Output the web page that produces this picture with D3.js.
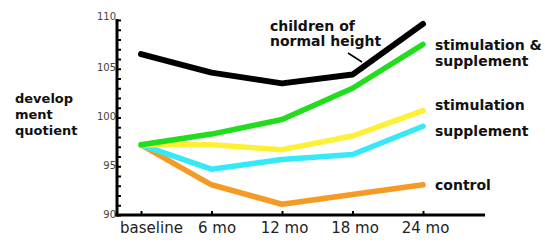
<!DOCTYPE html>
<html>
<head>
<meta charset="utf-8">
<script src="https://d3js.org/d3.v7.min.js"></script>
<style>
  body { margin: 0; background: #fff; }
  text { font-family: "DejaVu Sans", sans-serif; }
  .lbl { font-weight: bold; font-size: 14px; fill: #111; }
  .ytitle { font-weight: bold; font-size: 13px; fill: #111; }
</style>
</head>
<body>
<svg width="545" height="242"></svg>
<script>
// data
var timepoints = ["baseline", "6 mo", "12 mo", "18 mo", "24 mo"];
var normalHeight = [106.5, 104.6, 103.5, 104.4, 109.6];
var stimSupp     = [97.2, 98.3, 99.8, 103.0, 107.5];
var stimulation  = [97.2, 97.2, 96.7, 98.1, 100.7];
var supplement   = [97.2, 94.7, 95.7, 96.2, 99.1];
var control      = [97.2, 93.1, 91.1, 92.1, 93.1];
var yTicks = d3.range(90, 111);

var series = [
  {name: "control", values: control, color: "#f59a25"},
  {name: "supplement", values: supplement, color: "#36e8f8"},
  {name: "stimulation", values: stimulation, color: "#fdf035"},
  {name: "stimulation & supplement", values: stimSupp, color: "#22dd1e"},
  {name: "children of normal height", values: normalHeight, color: "#000"}
];

var svg = d3.select("svg");

var x = d3.scalePoint().domain(timepoints).range([141, 423]);
var y = d3.scaleLinear().domain([90, 110]).range([215, 20]);

// y axis
var yAxis = svg.append("g")
  .attr("transform", "translate(117,0)")
  .call(d3.axisLeft(y).tickValues(yTicks).tickSize(-4).tickPadding(1)
    .tickFormat(function(d) { return d % 5 === 0 ? d : ""; }));
yAxis.select(".domain").remove();
yAxis.selectAll(".tick line").attr("stroke", "#000").attr("stroke-width", 2);
yAxis.selectAll(".tick text")
  .attr("font-family", "DejaVu Sans, sans-serif")
  .attr("font-size", 10).attr("fill", "#444")
  .attr("dy", function(d) { return d === 110 ? "-0.1em" : "0.2em"; });
svg.append("line")
  .attr("x1", 117).attr("x2", 117)
  .attr("y1", y(110) - 1).attr("y2", y(90) + 1.5)
  .attr("stroke", "#000").attr("stroke-width", 3);

// x axis
var xAxis = svg.append("g")
  .attr("transform", "translate(0," + y(90) + ")")
  .call(d3.axisBottom(x).tickSize(-4).tickPadding(7));
xAxis.select(".domain").remove();
xAxis.selectAll(".tick line").attr("stroke", "#000").attr("stroke-width", 2);
xAxis.selectAll(".tick text")
  .attr("font-family", "DejaVu Sans, sans-serif")
  .attr("font-size", 15).attr("fill", "#222")
  .attr("dx", function(d, i) { return i === 0 ? 10 : (i === 1 ? 5 : 2); });
svg.append("line")
  .attr("x1", 115.5).attr("x2", 485)
  .attr("y1", y(90)).attr("y2", y(90))
  .attr("stroke", "#000").attr("stroke-width", 3);

// lines
var line = d3.line()
  .x(function(d, i) { return x(timepoints[i]); })
  .y(function(d) { return y(d); });

svg.append("g").selectAll("path")
  .data(series)
  .enter().append("path")
  .attr("d", function(d) { return line(d.values); })
  .attr("fill", "none")
  .attr("stroke", function(d) { return d.color; })
  .attr("stroke-width", function(d) { return d.color === "#000" ? 6 : 5.5; })
  .attr("stroke-linejoin", "round")
  .attr("stroke-linecap", "round");

// y title
svg.append("text").attr("class", "ytitle")
  .selectAll("tspan")
  .data(["develop", "ment", "quotient"])
  .enter().append("tspan")
  .attr("x", 15)
  .attr("y", function(d, i) { return 103 + i * 16; })
  .text(function(d) { return d; });

// series labels
var labels = [
  {lines: ["stimulation &", "supplement"], y: 50},
  {lines: ["stimulation"], y: 110},
  {lines: ["supplement"], y: 136},
  {lines: ["control"], y: 190}
];
labels.forEach(function(l) {
  svg.append("text").attr("class", "lbl")
    .selectAll("tspan")
    .data(l.lines)
    .enter().append("tspan")
    .attr("x", 435)
    .attr("y", function(d, i) { return l.y + i * 16; })
    .text(function(d) { return d; });
});

svg.append("text").attr("class", "lbl")
  .selectAll("tspan")
  .data(["children of", "normal height"])
  .enter().append("tspan")
  .attr("x", 270)
  .attr("y", function(d, i) { return 31 + i * 15; })
  .text(function(d) { return d; });

svg.append("line")
  .attr("x1", 348).attr("y1", 53)
  .attr("x2", 362).attr("y2", 62)
  .attr("stroke", "#000").attr("stroke-width", 1.5);
</script>
</body>
</html>
